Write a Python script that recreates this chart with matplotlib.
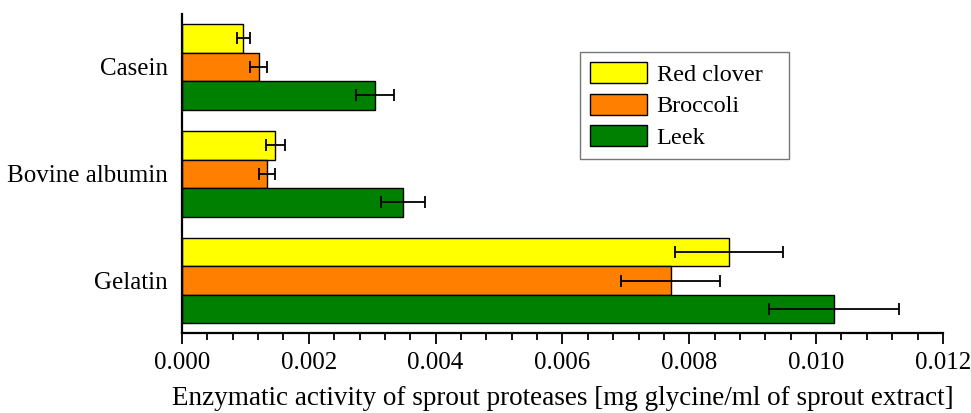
import numpy as np
import matplotlib
matplotlib.use('Agg')
import matplotlib.pyplot as plt
from matplotlib.ticker import MultipleLocator, FormatStrFormatter

plt.rcParams['font.family'] = ['Liberation Serif', 'DejaVu Serif']

# substrates, bottom to top
substrates = ['Gelatin', 'Bovine albumin', 'Casein']
sprouts = ['Red clover', 'Broccoli', 'Leek']
colors = ['#ffff00', '#ff8000', '#008000']

# mean activity and error per sprout, same order as substrates
red_clover = [0.00863, 0.00147, 0.00097]
red_clover_err = [0.00085, 0.00015, 0.00010]
broccoli = [0.00771, 0.00134, 0.00121]
broccoli_err = [0.00078, 0.00013, 0.00013]
leek = [0.01028, 0.00349, 0.00304]
leek_err = [0.00103, 0.00035, 0.00030]

values = [red_clover, broccoli, leek]
errors = [red_clover_err, broccoli_err, leek_err]

fig = plt.figure(figsize=(9.71, 4.13), dpi=100)
ax = fig.add_axes([0.1874, 0.1937, 0.7837, 0.7723])

y = np.arange(len(substrates))
h = 0.267
offsets = [h, 0, -h]
for vals, errs, off, col, name in zip(values, errors, offsets, colors, sprouts):
    ax.barh(y + off, vals, height=h, color=col, edgecolor='black', linewidth=1.0,
            label=name)
    ax.errorbar(vals, y + off, xerr=errs, fmt='none', ecolor='black',
                elinewidth=1.3, capsize=4, capthick=1.3)

ax.set_xlim(0, 0.012)
ax.set_ylim(-0.49, 2.495)
ax.set_yticks(y)
ax.set_yticklabels(substrates, fontsize=18)
ax.tick_params(axis='y', length=0, pad=10)
ax.xaxis.set_major_locator(MultipleLocator(0.002))
ax.xaxis.set_minor_locator(MultipleLocator(0.0004))
ax.xaxis.set_major_formatter(FormatStrFormatter('%.3f'))
ax.tick_params(axis='x', which='major', length=8, width=1.3, labelsize=18, pad=6)
ax.tick_params(axis='x', which='minor', length=5, width=1.3)
ax.set_xlabel('Enzymatic activity of sprout proteases [mg glycine/ml of sprout extract]',
              fontsize=19.5, labelpad=8)

for s in ['top', 'right']:
    ax.spines[s].set_visible(False)
for s in ['left', 'bottom']:
    ax.spines[s].set_linewidth(1.6)

# legend box stretched to a fixed width
leg = ax.legend(loc='upper left', bbox_to_anchor=(0.523, 0.881, 0.275, 0.0),
                mode='expand', fontsize=17.5,
                fancybox=False, edgecolor='#777777', framealpha=1,
                handlelength=2.35, handleheight=0.95, borderpad=0.4,
                labelspacing=0.33, handletextpad=0.4, borderaxespad=0)
leg.get_frame().set_linewidth(1.0)

fig.savefig('out.png', dpi=100)
